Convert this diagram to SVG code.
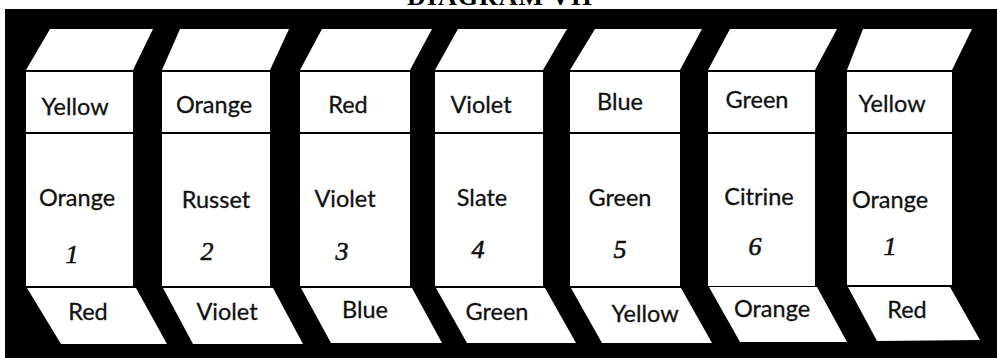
<svg xmlns="http://www.w3.org/2000/svg" width="997" height="358" viewBox="0 0 997 358">
<style>
.face{fill:#fff;stroke:none}
.lbl{font-family:Lato,"Open Sans","Liberation Sans",sans-serif;font-size:23.5px;fill:#111;text-anchor:middle;stroke:#111;stroke-width:0.3px}
.num{font-family:"Liberation Serif","DejaVu Serif",serif;font-style:italic;font-size:26px;fill:#111;text-anchor:middle;stroke:#111;stroke-width:0.6px}
.title{font-family:"Liberation Serif","DejaVu Serif",serif;font-weight:bold;font-size:26px;fill:#000;text-anchor:middle;letter-spacing:1px}
</style>
<rect width="997" height="358" fill="#fff"/>
<text class="title" x="500" y="5">DIAGRAM VII</text>
<rect x="5" y="9" width="992" height="349" fill="#000"/>

<g id="col1">
<polygon class="face" points="26,70 133,70 153,29 50,29"/>
<rect class="face" x="26" y="72" width="107" height="60"/>
<rect class="face" x="26" y="134" width="107" height="152"/>
<polygon class="face" points="27,288 136,288 167,344 61,344"/>
<text class="lbl" x="75" y="115">Yellow</text>
<text class="lbl" x="77" y="206">Orange</text>
<text class="num" x="72" y="263">1</text>
<text class="lbl" x="88" y="320">Red</text>
</g>

<g id="col2">
<polygon class="face" points="162,70 270,70 289,29 180,29"/>
<rect class="face" x="162" y="72" width="108" height="60"/>
<rect class="face" x="162" y="134" width="108" height="152"/>
<polygon class="face" points="163,288 273,288 303,344 193,344"/>
<text class="lbl" x="214" y="113">Orange</text>
<text class="lbl" x="216" y="208">Russet</text>
<text class="num" x="207" y="260">2</text>
<text class="lbl" x="227" y="320">Violet</text>
</g>

<g id="col3">
<polygon class="face" points="300,70 410,70 432,29 322,29"/>
<rect class="face" x="300" y="72" width="110" height="60"/>
<rect class="face" x="300" y="134" width="110" height="152"/>
<polygon class="face" points="301,288 412,288 442,343 331,343"/>
<text class="lbl" x="348" y="113">Red</text>
<text class="lbl" x="345" y="207">Violet</text>
<text class="num" x="342" y="260">3</text>
<text class="lbl" x="365" y="318">Blue</text>
</g>

<g id="col4">
<polygon class="face" points="435,70 543,70 567,29 458,29"/>
<rect class="face" x="435" y="72" width="108" height="60"/>
<rect class="face" x="435" y="134" width="108" height="152"/>
<polygon class="face" points="436,288 545,288 576,343 467,343"/>
<text class="lbl" x="481" y="113">Violet</text>
<text class="lbl" x="482" y="206">Slate</text>
<text class="num" x="478" y="258">4</text>
<text class="lbl" x="497" y="320">Green</text>
</g>

<g id="col5">
<polygon class="face" points="570,70 680,70 702,29 595,29"/>
<rect class="face" x="570" y="72" width="110" height="60"/>
<rect class="face" x="570" y="134" width="110" height="152"/>
<polygon class="face" points="571,288 681,288 712,343 602,343"/>
<text class="lbl" x="620" y="110">Blue</text>
<text class="lbl" x="620" y="206">Green</text>
<text class="num" x="620" y="258">5</text>
<text class="lbl" x="645" y="322">Yellow</text>
</g>

<g id="col6">
<polygon class="face" points="708,70 815,70 837,29 730,29"/>
<rect class="face" x="708" y="72" width="107" height="60"/>
<rect class="face" x="708" y="134" width="107" height="152"/>
<polygon class="face" points="709,287 817,287 847,342 740,342"/>
<text class="lbl" x="757" y="108">Green</text>
<text class="lbl" x="759" y="205">Citrine</text>
<text class="num" x="755" y="255">6</text>
<text class="lbl" x="772" y="317">Orange</text>
</g>

<g id="col7">
<polygon class="face" points="847,70 952,70 972,29 863,29"/>
<rect class="face" x="847" y="72" width="105" height="60"/>
<rect class="face" x="847" y="134" width="105" height="151"/>
<polygon class="face" points="848,287 950,287 980,340 877,341"/>
<text class="lbl" x="892" y="112">Yellow</text>
<text class="lbl" x="890" y="208">Orange</text>
<text class="num" x="890" y="255">1</text>
<text class="lbl" x="907" y="318">Red</text>
</g>
</svg>
